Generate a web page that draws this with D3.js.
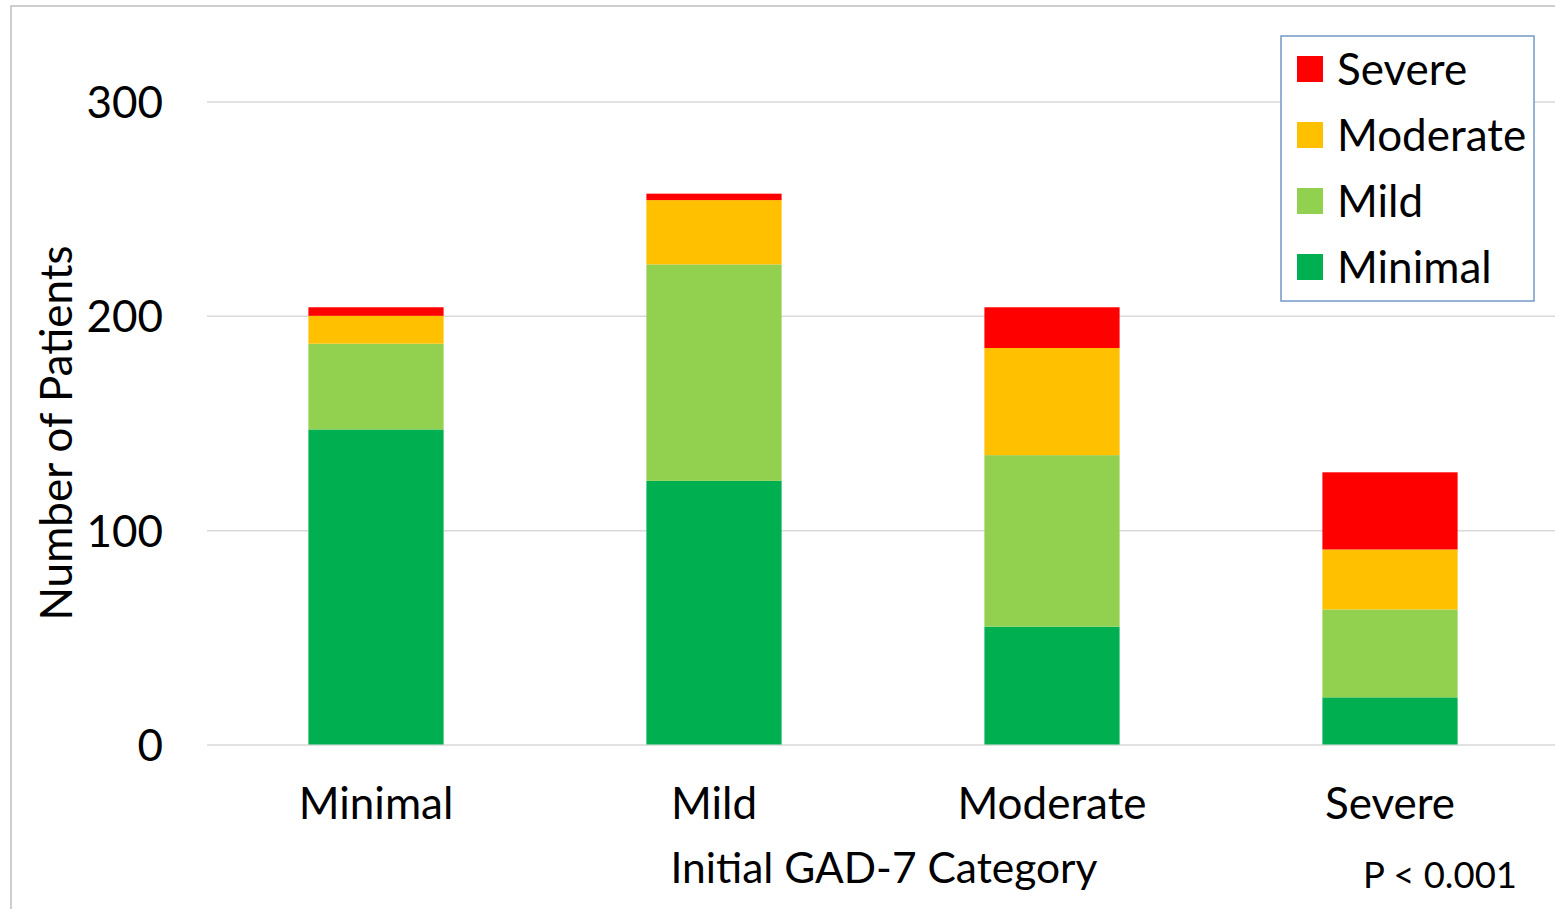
<!DOCTYPE html>
<html>
<head>
<meta charset="utf-8">
<script src="https://cdn.jsdelivr.net/npm/d3@7"></script>
<style>
  html, body { margin: 0; padding: 0; background: #fff; }
  svg { display: block; }
  text { font-family: Lato, "Open Sans", sans-serif; fill: #000; }
</style>
</head>
<body>
<svg id="chart" width="1555" height="909"></svg>
<script>
// Initial GAD-7 category on the x axis, follow-up category as the stacked series
const categories = ["Minimal", "Mild", "Moderate", "Severe"];
const seriesNames = ["Minimal", "Mild", "Moderate", "Severe"];
const minimalVals  = [147, 123, 55, 22];
const mildVals     = [40, 101, 80, 41];
const moderateVals = [13, 30, 50, 28];
const severeVals   = [4, 3, 19, 36];
const yTicks = [0, 100, 200, 300];
const colors = ["#00B050", "#92D050", "#FFC000", "#FF0000"];

const rows = categories.map((c, i) => ({
  category: c,
  Minimal: minimalVals[i],
  Mild: mildVals[i],
  Moderate: moderateVals[i],
  Severe: severeVals[i]
}));

const svg = d3.select("#chart");
const W = 1555, H = 909;
const plot = { left: 207, right: 1559, top: 101.5, bottom: 744.5 };

// outer chart frame
svg.append("rect")
  .attr("x", 11).attr("y", 6)
  .attr("width", W).attr("height", H)
  .attr("fill", "none").attr("stroke", "#bfbfbf").attr("stroke-width", 1.5);

const x = d3.scaleBand()
  .domain(categories)
  .range([plot.left, plot.right])
  .paddingInner(0.6)
  .paddingOuter(0.3);

const y = d3.scaleLinear()
  .domain([0, 300])
  .range([plot.bottom, plot.top]);

const color = d3.scaleOrdinal().domain(seriesNames).range(colors);

// gridlines + y labels
const yAxis = d3.axisLeft(y)
  .tickValues(yTicks)
  .tickSize(-(1555 - plot.left))
  .tickPadding(44)
  .tickFormat(d3.format("d"));

const gy = svg.append("g")
  .attr("transform", `translate(${plot.left},0)`)
  .call(yAxis);
gy.select(".domain").remove();
gy.selectAll(".tick line").attr("stroke", "#d9d9d9").attr("stroke-width", 1.5);
gy.selectAll(".tick text")
  .attr("font-size", 44)
  .attr("dy", "0.36em");

// stacked bars
const stack = d3.stack().keys(seriesNames);
const layers = stack(rows);

svg.append("g")
  .selectAll("g")
  .data(layers)
  .join("g")
  .attr("fill", d => color(d.key))
  .selectAll("rect")
  .data(d => d)
  .join("rect")
  .attr("x", d => x(d.data.category))
  .attr("width", x.bandwidth())
  .attr("y", d => y(d[1]))
  .attr("height", d => y(d[0]) - y(d[1]));

// x category labels
const xAxis = d3.axisBottom(x).tickSize(0).tickPadding(74);
const gx = svg.append("g")
  .attr("transform", `translate(0,${plot.bottom})`)
  .call(xAxis);
gx.select(".domain").remove();
gx.selectAll(".tick text").attr("font-size", 44).attr("dy", 0);

// axis titles
svg.append("text")
  .attr("transform", `translate(72,433) rotate(-90)`)
  .attr("text-anchor", "middle")
  .attr("font-size", 44)
  .text("Number of Patients");

svg.append("text")
  .attr("x", 884).attr("y", 883)
  .attr("text-anchor", "middle")
  .attr("font-size", 42.5)
  .text("Initial GAD-7 Category");

svg.append("text")
  .attr("x", 1517).attr("y", 888)
  .attr("text-anchor", "end")
  .attr("font-size", 36.5)
  .text("P < 0.001");

// legend
const legend = svg.append("g").attr("transform", "translate(1281,36)");
legend.append("rect")
  .attr("width", 253).attr("height", 265)
  .attr("fill", "#fff").attr("stroke", "#7399c6").attr("stroke-width", 1.5);

const legendOrder = seriesNames.slice().reverse();
const li = legend.selectAll("g.item")
  .data(legendOrder)
  .join("g")
  .attr("class", "item")
  .attr("transform", (d, i) => `translate(16,${33 + i * 66})`);
li.append("rect")
  .attr("x", 0).attr("y", -13)
  .attr("width", 26).attr("height", 26)
  .attr("fill", d => color(d));
li.append("text")
  .attr("x", 40).attr("y", 0)
  .attr("dy", "0.36em")
  .attr("font-size", 44)
  .text(d => d);
</script>
</body>
</html>
